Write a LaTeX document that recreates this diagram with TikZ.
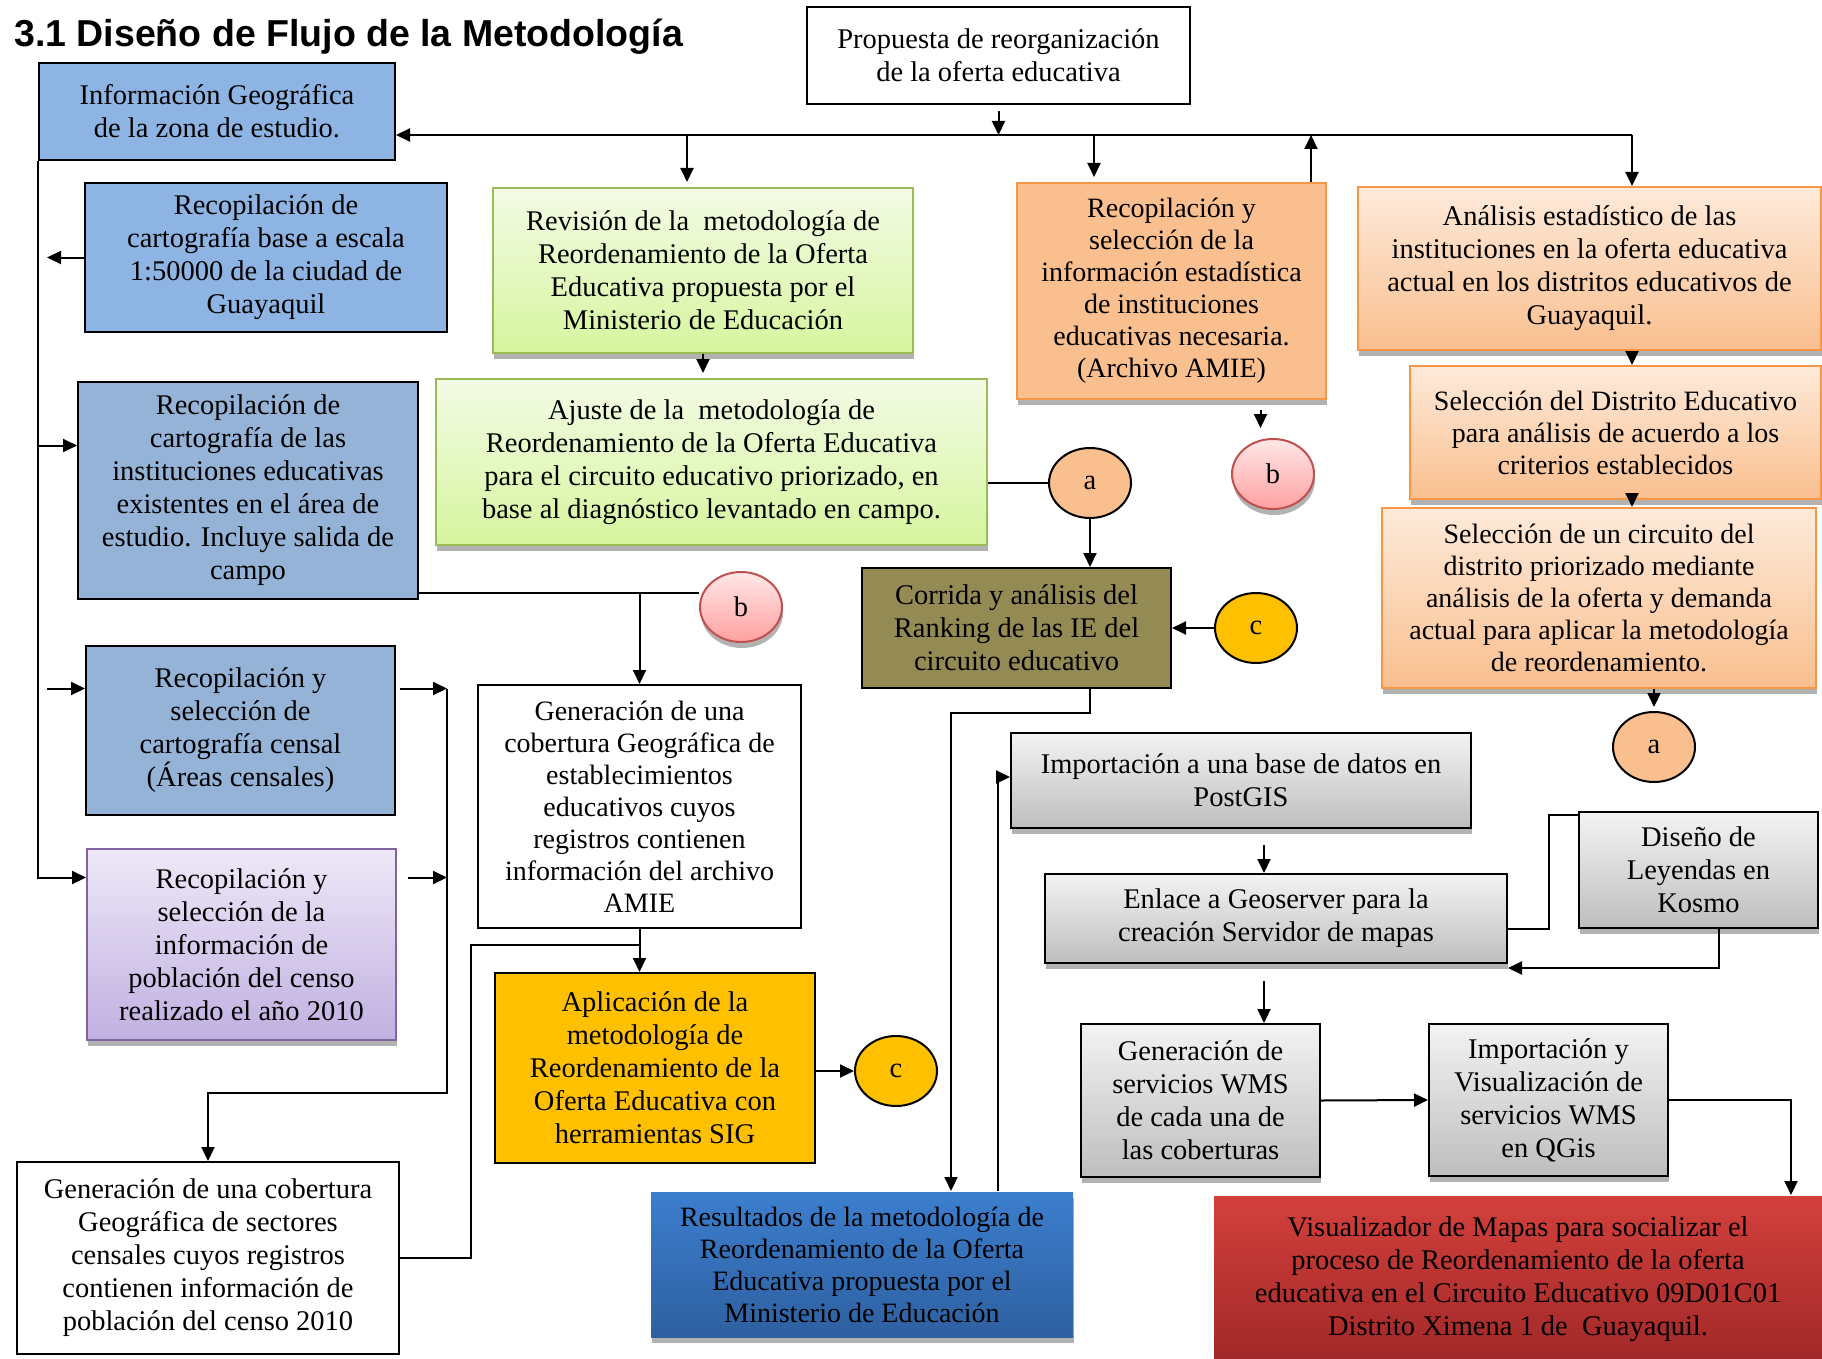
\documentclass[tikz,border=0pt]{standalone}
\usepackage{fontspec}
\setmainfont{Liberation Serif}
\newfontfamily\titlefont{Liberation Sans}
\usetikzlibrary{arrows.meta,shapes.geometric,shadows}

\definecolor{infoblue}{RGB}{141,180,226}
\definecolor{cartblue}{RGB}{149,179,215}
\definecolor{greentop}{RGB}{243,251,229}
\definecolor{greenbot}{RGB}{214,245,158}
\definecolor{greenline}{RGB}{155,187,89}
\definecolor{orangefill}{RGB}{250,191,143}
\definecolor{orangetop}{RGB}{253,234,218}
\definecolor{orangeline}{RGB}{247,150,70}
\definecolor{pinktop}{RGB}{255,232,232}
\definecolor{pinkbot}{RGB}{255,160,160}
\definecolor{pinkline}{RGB}{192,80,77}
\definecolor{gold}{RGB}{255,192,0}
\definecolor{olive}{RGB}{148,138,84}
\definecolor{lilactop}{RGB}{238,232,247}
\definecolor{lilacbot}{RGB}{192,176,225}
\definecolor{lilacline}{RGB}{128,100,162}
\definecolor{graytop}{RGB}{243,243,243}
\definecolor{graybot}{RGB}{190,190,190}
\definecolor{resulttop}{RGB}{60,126,206}
\definecolor{resultbot}{RGB}{46,96,160}
\definecolor{visortop}{RGB}{211,64,60}
\definecolor{visorbot}{RGB}{160,40,40}

\begin{document}
\begin{tikzpicture}[x=1pt, y=-1pt,
    box/.style={rectangle, draw, line width=2pt, align=center, inner sep=2pt,
        font=\fontsize{28.5}{33}\selectfont},
    shade/.style={drop shadow={shadow xshift=1pt, shadow yshift=-6pt, fill=black!30, opacity=1}},
    bluebox/.style={box, fill=infoblue},
    cartbox/.style={box, fill=cartblue},
    greenbox/.style={box, draw=greenline, top color=greentop, bottom color=greenbot, shade},
    orangebox/.style={box, draw=orangeline, top color=orangetop, bottom color=orangefill, shade},
    graybox/.style={box, top color=graytop, bottom color=graybot, shade},
    dot/.style={ellipse, draw, line width=2pt, minimum width=82pt, minimum height=70pt,
        inner sep=0pt, font=\fontsize{28.5}{33}\selectfont},
    arrow/.style={-{Triangle[length=14pt,width=13pt]}, line width=2pt},
    line/.style={line width=2pt}
]
\useasboundingbox (0, 0) rectangle (1822, 1359);

% title
\node[anchor=base west, inner sep=0pt, font=\titlefont\bfseries\fontsize{37.5}{40}\selectfont]
    (title) at (14, 47) {3.1 Diseño de Flujo de la Metodología};

% top row
\node[box, minimum width=383pt, minimum height=97pt] (prop) at (998.5, 55.5)
    {Propuesta de reorganización\\de la oferta educativa};
\node[bluebox, minimum width=356pt, minimum height=97pt] (infogeo) at (217, 111.5)
    {Información Geográfica\\de la zona de estudio.};

% left column
\node[bluebox, minimum width=362pt, minimum height=149pt] (cartbase) at (266, 257.5)
    {Recopilación de\\cartografía base a escala\\1:50000 de la ciudad de\\Guayaquil};
\node[cartbox, minimum width=340pt, minimum height=217pt] (cartinst) at (248, 490.5)
    {Recopilación de\\cartografía de las\\instituciones educativas\\existentes en el área de\\estudio. Incluye salida de\\campo};
\node[cartbox, minimum width=309pt, minimum height=169pt] (censal) at (240.5, 730.5)
    {Recopilación y\\selección de\\cartografía censal\\(Áreas censales)};
\node[box, draw=lilacline, top color=lilactop, bottom color=lilacbot, shade,
    minimum width=309pt, minimum height=191pt] (poblacion) at (241.5, 944.5)
    {Recopilación y\\selección de la\\información de\\población del censo\\realizado el año 2010};
\node[box, minimum width=382pt, minimum height=192pt] (cobsect) at (208, 1258)
    {Generación de una cobertura\\Geográfica de sectores\\censales cuyos registros\\contienen información de\\población del censo 2010};

% centre column
\node[greenbox, minimum width=420pt, minimum height=165pt] (revision) at (703, 270.5)
    {Revisión de la\ \ metodología de\\Reordenamiento de la Oferta\\Educativa propuesta por el\\Ministerio de Educación};
\node[greenbox, minimum width=551pt, minimum height=166pt] (ajuste) at (711.5, 462)
    {Ajuste de la\ \ metodología de\\Reordenamiento de la Oferta Educativa\\para el circuito educativo priorizado, en\\base al diagnóstico levantado en campo.};
\node[box, minimum width=323pt, minimum height=243pt, font=\fontsize{28}{32}\selectfont] (amie) at (639.5, 806.5)
    {Generación de una\\cobertura Geográfica de\\establecimientos\\educativos cuyos\\registros contienen\\información del archivo\\AMIE};
\node[box, fill=gold, minimum width=320pt, minimum height=190pt] (aplic) at (655, 1068)
    {Aplicación de la\\metodología de\\Reordenamiento de la\\Oferta Educativa con\\herramientas SIG};
\node[box, draw=none, top color=resulttop, bottom color=resultbot, shade,
    minimum width=422pt, minimum height=145pt, font=\fontsize{28}{32}\selectfont] (result) at (862, 1264.5)
    {Resultados de la metodología de\\Reordenamiento de la Oferta\\Educativa propuesta por el\\Ministerio de Educación};
\node[box, fill=olive, minimum width=309pt, minimum height=120pt] (corrida) at (1016.5, 628)
    {Corrida y análisis del\\Ranking de las IE del\\circuito educativo};
\node[box, draw=orangeline, fill=orangefill, shade, minimum width=309pt, minimum height=216pt,
    font=\fontsize{28}{32}\selectfont] (recoest) at (1171.5, 291)
    {Recopilación y\\selección de la\\información estadística\\de instituciones\\educativas necesaria.\\(Archivo AMIE)};

% right column
\node[orangebox, minimum width=463pt, minimum height=163pt] (analisis) at (1589.5, 268.5)
    {Análisis estadístico de las\\instituciones en la oferta educativa\\actual en los distritos educativos de\\Guayaquil.};
\node[orangebox, minimum width=411pt, minimum height=133pt, font=\fontsize{28}{32}\selectfont] (seldist) at (1615.5, 432.5)
    {Selección del Distrito Educativo\\para análisis de acuerdo a los\\criterios establecidos};
\node[orangebox, minimum width=434pt, minimum height=180pt, font=\fontsize{28}{32}\selectfont] (selcirc) at (1599, 598)
    {Selección de un circuito del\\distrito priorizado mediante\\análisis de la oferta y demanda\\actual para aplicar la metodología\\de reordenamiento.};
\node[graybox, minimum width=460pt, minimum height=95pt] (import) at (1241, 780.5)
    {Importación a una base de datos en\\PostGIS};
\node[graybox, minimum width=462pt, minimum height=89pt] (enlace) at (1276, 918.5)
    {Enlace a Geoserver para la\\creación Servidor de mapas};
\node[graybox, minimum width=239pt, minimum height=116pt] (diseno) at (1698.5, 870)
    {Diseño de\\Leyendas en\\Kosmo};
\node[graybox, minimum width=239pt, minimum height=153pt] (wms) at (1200.5, 1100.5)
    {Generación de\\servicios WMS\\de cada una de\\las coberturas};
\node[graybox, minimum width=239pt, minimum height=152pt] (qgis) at (1548.5, 1100)
    {Importación y\\Visualización de\\servicios WMS\\en QGis};
\node[box, draw=none, top color=visortop, bottom color=visorbot,
    minimum width=608pt, minimum height=166pt] (visor) at (1518, 1279)
    {Visualizador de Mapas para socializar el\\proceso de Reordenamiento de la oferta\\educativa en el Circuito Educativo 09D01C01\\Distrito Ximena 1 de\ \ Guayaquil.};

% connectors (circles)
\node[dot, fill=orangefill] (a1) at (1090, 483) {a};
\node[dot, draw=pinkline, top color=pinktop, bottom color=pinkbot, shade] (b1) at (1273, 474) {b};
\node[dot, draw=pinkline, top color=pinktop, bottom color=pinkbot, shade] (b2) at (741, 607) {b};
\node[dot, fill=gold] (c1) at (896, 1071) {c};
\node[dot, fill=gold] (c2) at (1256, 628) {c};
\node[dot, fill=orangefill] (a2) at (1654, 747) {a};

% main bus
\coordinate (busL) at (687, 135);
\coordinate (busM) at (1094, 135);
\coordinate (busU) at (1311, 135);
\coordinate (busR) at (1632, 135);
\draw[arrow] (busR) -- (infogeo.east |- busR);
\draw[arrow, shorten <=6pt] (prop.south) -- (prop.south |- busL);
\draw[arrow, shorten >=5pt] (busL) -- (busL |- revision.north);
\draw[arrow, shorten >=5pt] (busM) -- (busM |- recoest.north);
\draw[arrow] (busU |- recoest.north) -- (busU);
\draw[arrow] (busR) -- (busR |- analisis.north);

% right column arrows
\draw[arrow] (analisis.south -| busR) -- (seldist.north -| busR);
\draw[arrow] (seldist.south -| busR) -- (selcirc.north -| busR);
\draw[arrow, shorten >=4pt] (selcirc.south -| a2) -- (a2.north);

% centre arrows
\coordinate (bx) at ([xshift=89pt]recoest.south);
\draw[arrow, shorten <=10pt, shorten >=10pt] (bx) -- (bx |- b1.north);
\draw[arrow, shorten >=5pt] (revision.south) -- (ajuste.north -| revision.south);
\draw[line] (a1.west -| ajuste.east) -- (a1.west);
\draw[arrow] (a1.south) -- (a1.south |- corrida.north);
\draw[arrow] (c2.west) -- (c2.west -| corrida.east);
\coordinate (rx) at (951, 713);
\draw[arrow] (corrida.south -| a1) |- (rx) -- (rx |- result.north);
\coordinate (ix) at (998, 777);
\draw[arrow] (ix |- result.north) -- (ix) -- (ix -| import.west);
\coordinate (ex) at (1264, 844);
\draw[arrow, shorten <=16pt] (ex |- import.south) -- (ex |- enlace.north);
\draw[arrow, shorten <=17pt] (ex |- enlace.south) -- (ex |- wms.north);
\coordinate (kx) at (1549, 815);
\draw[line] ([yshift=-10pt]enlace.east) -| (kx) -- (kx -| diseno.west);
\draw[arrow] ([xshift=20pt]diseno.south) |- ([yshift=-4pt]enlace.south east);
\draw[arrow] (wms.east) -- (qgis.west);
\coordinate (vx) at (1791, 1095);
\draw[arrow] (qgis.east) -| (vx |- visor.north);

% left column arrows
\coordinate (l1) at ([yshift=45pt]cartinst.west);
\coordinate (l2) at ([yshift=42pt]censal.west);
\coordinate (l3) at ([yshift=67pt]poblacion.west);
\coordinate (l4) at ([yshift=7pt]cartinst.south east);
\coordinate (cx) at (447, 1093);
\coordinate (gx) at (471, 945);
\draw[arrow] (infogeo.south west) |- (l3);
\draw[arrow] (infogeo.south west |- l1) -- (l1);
\draw[arrow, shorten >=9pt] (cartbase.west) -- (infogeo.south west |- cartbase.west);
\draw[arrow, shorten <=9pt] (infogeo.south west |- l2) -- (l2);
\draw[arrow, shorten <=4pt] (l2 -| censal.east) -- (l2 -| cx);
\draw[arrow, shorten <=11pt] (l3 -| poblacion.east) -- (l3 -| cx);
\draw[arrow] (l2 -| cx) -- (cx) -| (cobsect.north);
\draw[line] (cobsect.east) -| (gx) -- (gx -| amie.south);
\draw[line] (l4) -- (l4 -| b2.west);
\draw[arrow] (l4 -| amie.north) -- (amie.north);
\draw[arrow] (amie.south) -- (amie.south |- aplic.north);
\draw[arrow] (c1.west -| aplic.east) -- (c1.west);

\end{tikzpicture}
\end{document}
